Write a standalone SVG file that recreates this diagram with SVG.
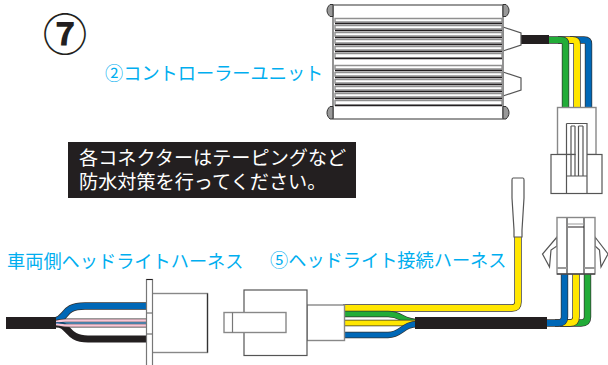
<svg xmlns="http://www.w3.org/2000/svg" width="608" height="365" viewBox="0 0 608 365">
<style>
.lbl{font-family:"Noto Sans CJK JP","Liberation Sans",sans-serif;fill:#00aeef;font-size:18.2px}
.wht{font-family:"Noto Sans CJK JP","Liberation Sans",sans-serif;fill:#fff;font-size:19.15px}
.box{fill:#fff;stroke:#555;stroke-width:1.2}
.gbox{fill:#fff;stroke:#888;stroke-width:1.4}
.fin{fill:#fff;stroke:#8f8f8f;stroke-width:1.4}
.finb{stroke:#231f20;stroke-width:1.5;fill:none}
.o{fill:none;stroke:#333;stroke-width:7.4}
.g{fill:none;stroke:#22ac38;stroke-width:6}
.y{fill:none;stroke:#ffe600;stroke-width:6}
.b{fill:none;stroke:#0068b7;stroke-width:6}
.o2{fill:none;stroke:#333;stroke-width:6.4}
.g2{fill:none;stroke:#22ac38;stroke-width:5}
.y2{fill:none;stroke:#ffe600;stroke-width:5}
.b2{fill:none;stroke:#0068b7;stroke-width:5}
.k{fill:#231f20}
</style>
<defs>
<g id="fins">
<path class="fin" d="M335 18.500h167v3.500h-167zM335 25.500h167v3.500h-167zM335 32.500h167v3.500h-167zM335 39.500h167v3.500h-167zM335 46.500h167v3.500h-167zM335 53.500h167v4.500h-167z"/>
<path class="finb" d="M335 23.500h167M335 30.500h167M335 37.500h167M335 44.500h167M335 51.500h167M335 58.500h167"/>
</g>
</defs>
<g id="connectors">
<path class="o" d="M570 40H584Q588.500 40 588.500 44V108"/>
<path class="b" d="M570 40H584Q588.500 40 588.500 44V108"/>
<path class="o" d="M558 40H572.500Q577 40 577 44V108"/>
<path class="y" d="M558 40H572.500Q577 40 577 44V108"/>
<path class="o" d="M548 40H561Q565.500 40 565.500 44V108"/>
<path class="g" d="M548 40H561Q565.500 40 565.500 44V108"/>
<path class="o" d="M587.500 274V317Q587.500 323 581 323H560"/>
<path class="g" d="M587.500 274V317Q587.500 323 581 323H560"/>
<path class="o" d="M576 274V317Q576 323 570 323H555"/>
<path class="y" d="M576 274V317Q576 323 570 323H555"/>
<path class="o" d="M564.500 274V317Q564.500 323 558 323H545"/>
<path class="b" d="M564.500 274V317Q564.500 323 558 323H545"/>
<path class="o" d="M518 236V302Q518 308 512 308H343"/>
<path class="y" d="M518 236V302Q518 308 512 308H343"/>
<path class="o2" d="M343 314H388C402 314 402 322 418 322"/>
<path class="g2" d="M343 314H388C402 314 402 322 418 322"/>
<path class="o2" d="M343 323H418"/>
<path class="y2" d="M343 323H418"/>
<path class="o2" d="M343 335H388C402 335 402 324 418 324"/>
<path class="b2" d="M343 335H388C402 335 402 324 418 324"/>
<rect class="k" x="415" y="317" width="132" height="12"/>
<rect class="k" x="521" y="35" width="28" height="9"/>
<path d="M55 321C68 318 62 306 85 306H147" fill="none" stroke="#333" stroke-width="7.400"/>
<path d="M55 321C68 318 62 306 85 306H147" fill="none" stroke="#0068b7" stroke-width="6"/>
<path d="M56 324C70 324 66 339 88 339H147" fill="none" stroke="#231f20" stroke-width="7"/>
<path d="M56 322C62 320 62 320.500 70 320.500H147" fill="none" stroke="#333" stroke-width="4"/>
<path d="M56 322C62 320 62 320.500 70 320.500H147" fill="none" stroke="#f9c6d6" stroke-width="2.500"/>
<path d="M56 324C62 325 62 325.500 70 325.500H147" fill="none" stroke="#333" stroke-width="4"/>
<path d="M56 324C62 325 62 325.500 70 325.500H147" fill="none" stroke="#f9c6d6" stroke-width="2.500"/>
<path d="M56 323C62 323 64 323 70 323H147" fill="none" stroke="#0068b7" stroke-width="1"/>
<rect class="k" x="6" y="317" width="50" height="12"/>
</g>
<g id="control-unit">
<path class="box" d="M503 27L521 33V45L503 51ZM503 72L521 78V90L503 96Z"/>
<rect x="333" y="5" width="170" height="114" fill="#fff"/>
<path d="M333 5H503M333 119H503" stroke="#333" stroke-width="1.200"/>
<path d="M333 5V119M503 5V119" stroke="#888" stroke-width="1.800"/>
<use href="#fins"/>
<use href="#fins" y="47"/>
<path d="M333 4.500H330C326 8 326 13 330 16.500H333ZM503 4.500H506C510 8 510 13 506 16.500H503ZM333 106.500H330C326 110 326 115.500 330 119H333ZM503 106.500H506C510 110 510 115.500 506 119H503Z" fill="#999" stroke="#333"/>
</g>
<g id="plug-top">
<rect class="gbox" x="557.500" y="107.500" width="38.500" height="47"/>
<rect class="box" x="551" y="154.500" width="51" height="39"/>
<path class="box" fill="none" d="M566.500 123.500H587V193M566.500 123.500V193M566.500 176H587"/>
<path class="finb" style="stroke:#555;stroke-width:1.200" d="M571 126V176M575 126V176M578.500 126V176M583 126V176M571 126H575M578.500 126H583"/>
</g>
<g id="plug-bottom">
<path class="box" d="M557 237L542.500 254L549.500 267L551 250L557 246ZM595 237L608 254L601 267L599.500 250L595 246Z"/>
<rect class="gbox" x="557" y="217.500" width="38" height="56.500"/>
<path d="M567 217.500V274M584 217.500V274" stroke="#888" stroke-width="2"/>
<path d="M557 268H567M584 268H595" stroke="#999" stroke-width="2"/>
<path d="M568 224H584" stroke="#999"/>
<path d="M568 227H584" stroke="#231f20"/>
<path d="M557 274H595" stroke="#231f20" stroke-width="1.200"/>
</g>
<g id="terminal">
<path class="box" d="M513 178H523Q524 178 524 180V198L522 230V237H514V230L512 198V180Q512 178 513 178Z"/>
</g>
<g id="socket-left">
<rect class="gbox" x="152" y="293.500" width="55.500" height="59"/>
<path d="M207.500 293.500V352.500" stroke="#333" stroke-width="1.200"/>
<rect x="146.500" y="279.500" width="6" height="90" fill="#fff" stroke="#777" stroke-width="1.200"/>
<path d="M146.500 279.500H152.500" stroke="#231f20"/>
<path d="M147 313H152M147 334H152" stroke="#555"/>
</g>
<g id="plug-left">
<rect class="gbox" x="307" y="305" width="37.500" height="35.500"/>
<rect class="box" x="244" y="290" width="63" height="65.500"/>
<rect class="gbox" x="224" y="312.500" width="62" height="20"/>
<path d="M232.500 312.500V332.500" stroke="#777" stroke-width="1.200"/>
</g>
<g id="number">
<text x="65" y="51" text-anchor="middle" font-family="&quot;Noto Sans CJK JP&quot;,sans-serif" font-size="44" font-weight="700" fill="#231f20">⑦</text>
</g>
<g id="labels">
<text class="lbl" x="105" y="80">②コントローラーユニット</text>
<text class="lbl" x="7" y="268">車両側ヘッドライトハーネス</text>
<text class="lbl" x="270" y="267">⑤ヘッドライト接続ハーネス</text>
</g>
<g id="note">
<rect x="68" y="142" width="288" height="56" fill="#231f20"/>
<text class="wht" x="79" y="165">各コネクターはテーピングなど</text>
<text class="wht" x="79" y="189">防水対策を行ってください。</text>
</g>
</svg>
